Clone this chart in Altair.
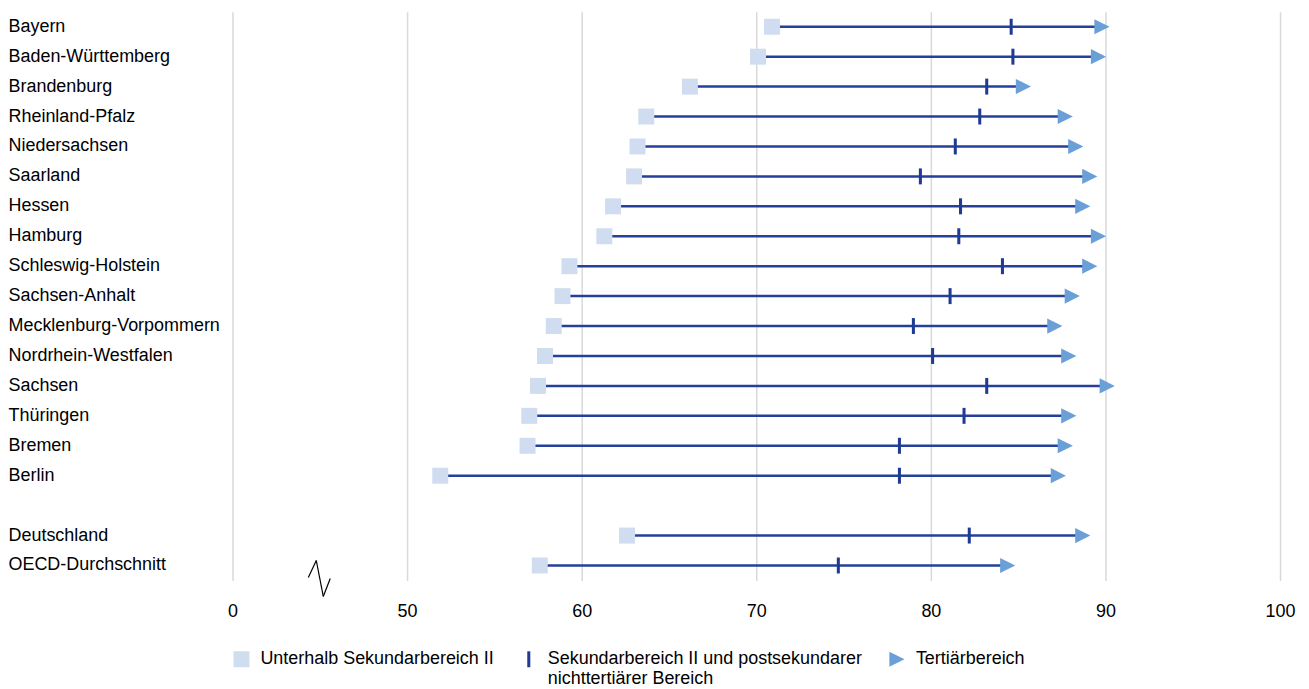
import altair as alt
import pandas as pd

# ---- data ----
regionen = [
    "Bayern", "Baden-Württemberg", "Brandenburg", "Rheinland-Pfalz", "Niedersachsen",
    "Saarland", "Hessen", "Hamburg", "Schleswig-Holstein", "Sachsen-Anhalt",
    "Mecklenburg-Vorpommern", "Nordrhein-Westfalen", "Sachsen", "Thüringen", "Bremen",
    "Berlin", "Deutschland", "OECD-Durchschnitt",
]
unterhalb = [70.9, 70.1, 66.2, 63.7, 63.2, 63.0, 61.8, 61.3, 59.3, 58.9,
             58.4, 57.9, 57.5, 57.0, 56.9, 51.9, 62.6, 57.6]
sekundar = [84.6, 84.7, 83.2, 82.8, 81.4, 79.4, 81.7, 81.6, 84.1, 81.1,
            79.0, 80.1, 83.2, 81.9, 78.2, 78.2, 82.2, 74.7]
tertiaer = [89.8, 89.6, 85.3, 87.7, 88.3, 89.1, 88.7, 89.6, 89.1, 88.1,
            87.1, 87.9, 90.1, 87.9, 87.7, 87.3, 88.7, 84.4]

typen = [
    "Unterhalb Sekundarbereich II",
    "Sekundarbereich II und postsekundarer nichttertiärer Bereich",
    "Tertiärbereich",
]
x_ticks = [40, 50, 60, 70, 80, 90, 100]  # 40 stands for the broken-axis "0"

y_order = regionen[:16] + [" "] + regionen[16:]

FONT = "Liberation Sans"
FS = 18

wide = pd.DataFrame({"Region": regionen, "u": unterhalb, "s": sekundar, "t": tertiaer})
long = pd.concat([
    pd.DataFrame({"Region": regionen, "Wert": unterhalb, "Typ": typen[0]}),
    pd.DataFrame({"Region": regionen, "Wert": sekundar, "Typ": typen[1]}),
    pd.DataFrame({"Region": regionen, "Wert": tertiaer, "Typ": typen[2]}),
], ignore_index=True)

x_scale = alt.Scale(domain=[40, 100], nice=False, zero=False)
y_scale = alt.Scale(type="band", domain=y_order, paddingInner=0, paddingOuter=0)

x_axis = alt.Axis(
    values=x_ticks, title=None, grid=True, gridColor="#d9d9d9", gridWidth=1.5,
    domain=False, ticks=False, labelPadding=22, labelFontSize=FS, labelFont=FONT,
    labelColor="#000000", labelFlush=False,
    labelExpr="datum.value == 40 ? '0' : datum.label",
)
y_axis = alt.Axis(
    title=None, domain=False, ticks=False, grid=False, labelAlign="left",
    labelPadding=225, labelLimit=400, labelFontSize=FS, labelFont=FONT,
    labelColor="#000000",
)

lines = alt.Chart(wide).mark_rule(color="#24409a", strokeWidth=2.5).encode(
    x=alt.X("u:Q", scale=x_scale, axis=x_axis),
    x2="t:Q",
    y=alt.Y("Region:N", scale=y_scale, axis=y_axis, sort=y_order),
)

square_path = "M-1,-1H1V1H-1Z"
tick_path = "M-0.19,-1H0.19V1H-0.19Z"
tri_path = "M-0.95,-0.95L0.95,0L-0.95,0.95Z"

legend = alt.Legend(
    title=None, orient="none", legendX=0, legendY=640, direction="horizontal",
    columns=3, padding=0, labelFont=FONT, labelFontSize=FS, labelColor="#000000",
    labelLimit=500, symbolSize=256, labelOffset=10, columnPadding=25,
    symbolStrokeWidth=0, symbolOpacity=1,
    labelExpr=("datum.label == 'Sekundarbereich II und postsekundarer nichttertiärer Bereich'"
               " ? ['Sekundarbereich II und postsekundarer', 'nichttertiärer Bereich'] : [datum.label, '']"),
)

points = alt.Chart(long).mark_point(filled=True, opacity=1, size=256, strokeWidth=0).encode(
    x=alt.X("Wert:Q", scale=x_scale),
    y=alt.Y("Region:N", scale=y_scale, sort=y_order),
    shape=alt.Shape("Typ:N", scale=alt.Scale(domain=typen, range=[square_path, tick_path, tri_path]), legend=legend),
    color=alt.Color("Typ:N", scale=alt.Scale(domain=typen, range=["#d0dcef", "#1f3a93", "#6a9fd8"]), legend=legend),
    order=alt.Order("Typ:N"),
)

# broken-axis marker (decoration)
brk = alt.Chart(pd.DataFrame({"k": [0]}))
b1 = brk.mark_rule(color="#000000", strokeWidth=1.2).encode(x=alt.value(76), x2=alt.value(84), y=alt.value(567), y2=alt.value(550))
b2 = brk.mark_rule(color="#000000", strokeWidth=1.2).encode(x=alt.value(84), x2=alt.value(91), y=alt.value(550), y2=alt.value(586))
b3 = brk.mark_rule(color="#000000", strokeWidth=1.2).encode(x=alt.value(91), x2=alt.value(98), y=alt.value(586), y2=alt.value(568))

chart = alt.layer(lines, points, b1, b2, b3).properties(
    width=1050, height=570,
    padding={"left": 0, "top": 3, "right": 5, "bottom": 0},
).configure(background="#ffffff").configure_view(stroke=None, strokeWidth=0)

chart.save("out.html", embed_options={"renderer": "svg", "actions": False})
